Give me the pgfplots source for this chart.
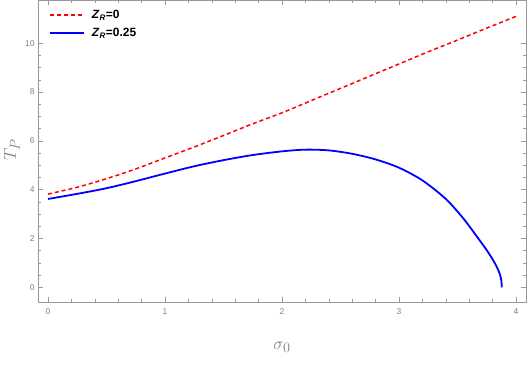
\documentclass[border=0pt]{standalone}
\usepackage{fontspec}
\setmainfont{Liberation Sans}
\usepackage{pgfplots}
\pgfplotsset{compat=1.18}
\definecolor{framegray}{gray}{0.6}
\definecolor{labgray}{gray}{0.5}
\begin{document}
\begin{tikzpicture}[x=1bp,y=1bp]
\begin{axis}[
  scale only axis,
  width=488bp, height=302bp,
  xmin=-0.085, xmax=4.085,
  ymin=-0.60, ymax=11.77,
  axis line style={framegray, line width=0.6bp},
  xtick={0,1,2,3,4}, ytick={0,2,4,6,8,10},
  minor x tick num=4, minor y tick num=3,
  tick align=inside,
  major tick length=5bp, minor tick length=3bp,
  tick style={framegray, line width=0.5bp},
  /pgf/number format/assume math mode=true,
  ticklabel style={font=\fontsize{8.5}{10}\selectfont, text=labgray},
  xticklabel style={yshift=-3bp},
  xlabel={$\sigma_0$}, ylabel={$T_P$},
  label style={text=labgray, font=\fontsize{19}{22}\selectfont},
  xlabel style={at={(axis description cs:0.5,0)}, anchor=center, yshift=-45bp},
  ylabel style={at={(axis description cs:0,0.503)}, anchor=center, yshift=26bp},
  legend style={at={(axis description cs:0.0,1.0)}, anchor=north west, draw=none, fill=none,
    font=\fontsize{12}{14}\selectfont\bfseries, xshift=8bp, yshift=-6bp,
    row sep=4bp},
  legend cell align=left,
  legend image code/.code={\draw[#1] (0bp,0bp) -- (34bp,0bp); \path (39bp,0bp);},
]
\addplot[draw=red, line width=1.5bp, dash pattern=on 4bp off 3bp, smooth] coordinates {
(0,3.82) (0.25,4.10) (0.5,4.45) (0.75,4.85) (1.0,5.30) (1.25,5.75) (1.5,6.22)
(1.75,6.70) (2.0,7.15) (2.25,7.65) (2.5,8.15) (2.75,8.65) (3.0,9.15) (3.25,9.65)
(3.5,10.13) (3.75,10.62) (4.0,11.10)};
\addlegendentry{\textit{Z}\textsubscript{\textit{R}}=0}
\addplot[draw=blue, line width=1.8bp, smooth] coordinates {
(0,3.62) (0.25,3.83) (0.5,4.06) (0.75,4.35) (1.0,4.66) (1.25,4.96) (1.5,5.21)
(1.75,5.42) (2.0,5.57) (2.2,5.64) (2.4,5.61) (2.6,5.47) (2.8,5.24) (3.0,4.90)
(3.2,4.38) (3.4,3.62) (3.55,2.82) (3.65,2.18) (3.75,1.52) (3.82,0.98) (3.86,0.56)
(3.875,0.25) (3.878,0)};
\addlegendentry{\textit{Z}\textsubscript{\textit{R}}=0.25}
\end{axis}
\pgfresetboundingbox
\path ([shift={(-38bp,-64bp)}]current axis.south west) rectangle ([shift={(2bp,0bp)}]current axis.north east);
\end{tikzpicture}
\end{document}
